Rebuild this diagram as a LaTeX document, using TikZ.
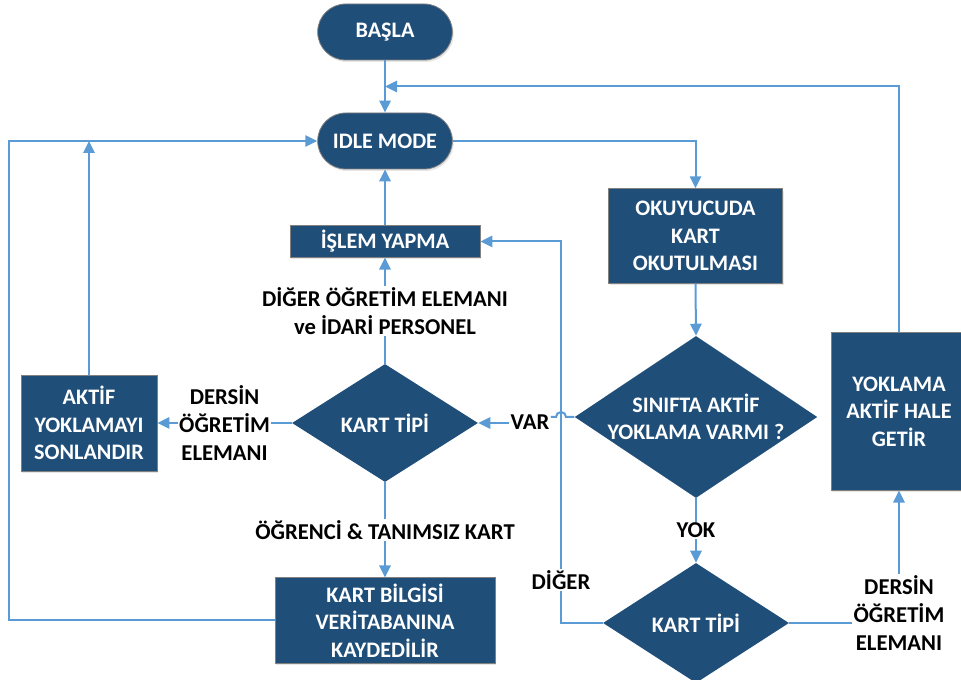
\documentclass[tikz,border=0pt]{standalone}
\usepackage{fontspec}
\setmainfont{Carlito}
\usepackage{tikz}
\usetikzlibrary{arrows.meta,calc,positioning,shapes.geometric,shadows}
\definecolor{flowBlue}{HTML}{1F4E79}
\definecolor{lineBlue}{HTML}{5B9BD5}
\tikzset{
  >={Triangle[length=9pt,width=8.5pt]},
  every node/.style={font=\fontsize{16.6}{20.5}\selectfont\bfseries},
  procbox/.style={draw=black!50, line width=0.6pt, fill=flowBlue, text=white, align=center, inner sep=0pt,
    drop shadow={shadow xshift=1pt, shadow yshift=-1.5pt, opacity=0.2}},
  termbox/.style={procbox, rounded corners=21pt, minimum width=101pt, minimum height=42pt},
  decision/.style={diamond, fill=flowBlue, inner sep=0pt},
  dectext/.style={text=white, align=center, inner sep=0pt},
  edgelabel/.style={fill=white, align=center, inner sep=1pt, text=black, font=\fontsize{17}{21}\selectfont\bfseries},
  flow/.style={->, draw=lineBlue, line width=1.5pt},
  plainflow/.style={draw=lineBlue, line width=1.5pt},
}

\begin{document}
\begin{tikzpicture}[x=0.75pt,y=0.75pt]
  \useasboundingbox (0,0) rectangle (961,-680);
  % main column
  \node[termbox] (start) at (385,-32) {BAŞLA};
  \node[termbox] (idle) at (385,-141) {IDLE MODE};
  \node[procbox, minimum width=142.5pt, minimum height=23.5pt] (islem) at (385,-241.5) {İŞLEM YAPMA};
  \node[decision, minimum width=139.5pt, minimum height=88.5pt] (type1) at (385,-423) {};
  \node[dectext] (type1txt) at (type1) {KART TİPİ};
  \node[procbox, minimum width=165pt, minimum height=64pt] (record) at (385,-620.5) {KART BİLGİSİ\\VERİTABANINA\\KAYDEDİLİR};
  \node[procbox, minimum width=102pt, minimum height=72pt] (endpoll) at (89,-423) {AKTİF\\YOKLAMAYI\\SONLANDIR};

  % right column
  \node[procbox, minimum width=130pt, minimum height=71pt] (read) at (695.5,-236) {OKUYUCUDA\\KART\\OKUTULMASI};
  \node[decision, minimum width=182pt, minimum height=121.5pt] (active) at (696,-417) {};
  \node[dectext] (activetxt) at (active) {SINIFTA AKTİF\\YOKLAMA VARMI ?};
  \node[decision, minimum width=139.5pt, minimum height=90pt] (type2) at (696,-623) {};
  \node[dectext] (type2txt) at (type2) {KART TİPİ};
  \node[procbox, minimum width=102pt, minimum height=118pt] (startpoll) at (899,-411.5) {YOKLAMA\\AKTİF HALE\\GETİR};

  % connectors
  \coordinate (merge) at ($(start.south)!0.5!(idle.north)$);
  \coordinate (bend) at (561,-241.5);
  \coordinate (outer) at (9,-141);
  \draw[flow] (start.south) -- (idle.north);
  \draw[flow] (startpoll.north) |- (merge);
  \draw[flow] (idle.east) -| (read.north);
  \draw[flow] (read.south) -- (active.north);
  \draw[flow] (active.south) -- node[edgelabel] (nolbl) {YOK} (type2.north);
  \draw[flow] (type2.west) -| node[edgelabel, pos=0.556] (otherlbl) {DİĞER} (bend) -- (islem.east);
  \node[edgelabel] (varlbl) at (530,-422) {VAR};
  \draw[plainflow] (active.west) -- ($(bend |- active.west)+(5,0)$) arc[start angle=0, end angle=180, radius=3.75pt] -- (varlbl.east |- active.west);
  \draw[flow] (varlbl.west |- type1.east) -- (type1.east);
  \draw[flow] (type1.west) -- node[edgelabel] (teacherlbl) {DERSİN\\ÖĞRETİM\\ELEMANI} (endpoll.east);
  \draw[flow] (endpoll.north) -- (endpoll.north |- idle.west);
  \draw[flow] (record.west) -| (outer) -- (idle.west);
  \draw[flow] (type1.north) -- node[edgelabel] (stafflbl) {DİĞER ÖĞRETİM ELEMANI\\ve İDARİ PERSONEL} (islem.south);
  \draw[flow] (islem.north) -- (idle.south);
  \draw[flow] (type1.south) -- node[edgelabel] (studentlbl) {ÖĞRENCİ \& TANIMSIZ KART} (record.north);
  \draw[flow] (type2.east) -| node[edgelabel, yshift=7.5pt] (teacherlbl2) {DERSİN\\ÖĞRETİM\\ELEMANI} (startpoll.south);
\end{tikzpicture}
\end{document}
